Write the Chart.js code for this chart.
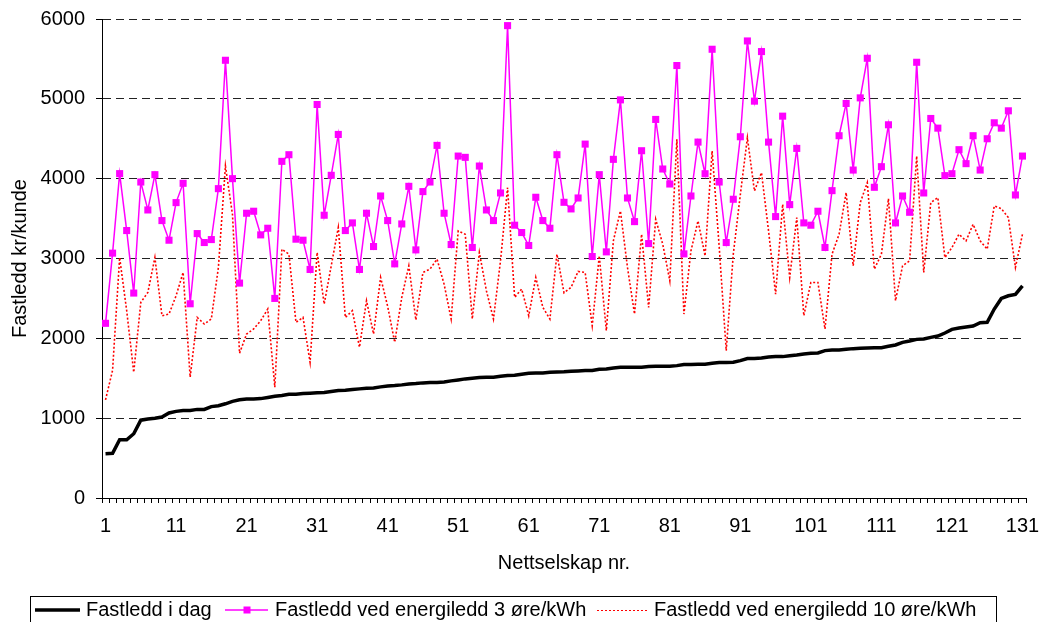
<!DOCTYPE html>
<html>
<head>
<meta charset="utf-8">
<script src="https://cdn.jsdelivr.net/npm/chart.js"></script>
<style>
  body { margin: 0; background: #fff; }
  #wrap { width: 1040px; height: 622px; }
</style>
</head>
<body>
<div id="wrap"><canvas id="chart" width="1040" height="622"></canvas></div>
<script>
// Nettselskap 1..131
const companies = Array.from({ length: 131 }, (_, i) => String(i + 1));
const shownTicks = ['1', '11', '21', '31', '41', '51', '61', '71', '81', '91', '101', '111', '121', '131'];

const seriesNames = [
  'Fastledd i dag',
  'Fastledd ved energiledd 3 øre/kWh',
  'Fastledd ved energiledd 10 øre/kWh'
];

const fastleddIDag = [
  555, 560, 730, 730, 805, 975, 990, 1000, 1015, 1065,
  1085, 1095, 1095, 1110, 1110, 1145, 1155, 1180, 1210, 1230,
  1240, 1240, 1245, 1260, 1275, 1285, 1300, 1300, 1308, 1312,
  1317, 1321, 1333, 1346, 1350, 1358, 1367, 1375, 1379, 1392,
  1404, 1408, 1417, 1429, 1433, 1442, 1446, 1446, 1454, 1467,
  1479, 1492, 1500, 1508, 1512, 1512, 1525, 1533, 1537, 1550,
  1562, 1567, 1567, 1575, 1578, 1580, 1588, 1592, 1596, 1596,
  1612, 1617, 1629, 1637, 1637, 1637, 1637, 1646, 1650, 1650,
  1650, 1658, 1671, 1671, 1675, 1675, 1687, 1696, 1696, 1700,
  1721, 1746, 1746, 1754, 1767, 1771, 1771, 1783, 1792, 1804,
  1812, 1817, 1846, 1854, 1854, 1862, 1871, 1875, 1879, 1883,
  1883, 1900, 1917, 1950, 1967, 1987, 1992, 2012, 2029, 2067,
  2112, 2129, 2142, 2154, 2196, 2200, 2367, 2500, 2533, 2550,
  2658
];

const energi3ore = [
  2188, 3067, 4063, 3350, 2567, 3958, 3608, 4050, 3475, 3229,
  3700, 3942, 2433, 3312, 3200, 3237, 3875, 5483, 4000, 2692,
  3567, 3592, 3296, 3379, 2500, 4217, 4300, 3242, 3229, 2863,
  4929, 3542, 4042, 4554, 3350, 3446, 2863, 3567, 3150, 3783,
  3475, 2933, 3433, 3904, 3108, 3838, 3958, 4417, 3567, 3175,
  4283, 4267, 3138, 4158, 3608, 3475, 3821, 5917, 3417, 3325,
  3163, 3767, 3475, 3379, 4300, 3704, 3621, 3758, 4433, 3025,
  4050, 3083, 4242, 4987, 3758, 3462, 4350, 3187, 4742, 4121,
  3933, 5417, 3058, 3783, 4458, 4062, 5621, 3958, 3200, 3742,
  4525, 5725, 4971, 5592, 4458, 3525, 4783, 3675, 4379, 3446,
  3417, 3592, 3138, 3850, 4538, 4942, 4108, 5012, 5508, 3892,
  4150, 4675, 3446, 3783, 3579, 5458, 3821, 4754, 4633, 4038,
  4062, 4363, 4188, 4538, 4108, 4500, 4700, 4633, 4850, 3796,
  4283
];

const energi10ore = [
  1229, 1600, 3012, 2346, 1575, 2450, 2575, 3012, 2283, 2304,
  2533, 2825, 1513, 2262, 2179, 2242, 2887, 4158, 3550, 1813,
  2054, 2117, 2221, 2367, 1388, 3117, 3054, 2200, 2262, 1700,
  3075, 2429, 2908, 3388, 2262, 2346, 1888, 2471, 2054, 2763,
  2400, 1950, 2513, 2908, 2230, 2825, 2867, 2992, 2679, 2242,
  3346, 3304, 2242, 3075, 2596, 2242, 2971, 3887, 2513, 2617,
  2283, 2763, 2388, 2242, 3054, 2570, 2638, 2838, 2825, 2158,
  3033, 2096, 3221, 3596, 2888, 2304, 3304, 2388, 3492, 3179,
  2721, 4492, 2304, 3096, 3471, 3033, 4346, 3150, 1846, 3054,
  3800, 4513, 3846, 4075, 3346, 2554, 3679, 2763, 3512, 2283,
  2700, 2700, 2117, 3054, 3304, 3825, 2908, 3700, 3950, 2867,
  3054, 3750, 2471, 2908, 2971, 4283, 2825, 3700, 3762, 3012,
  3137, 3304, 3221, 3429, 3221, 3117, 3658, 3625, 3512, 2888,
  3304
];

const FONT = 'Liberation Sans, Arial, sans-serif';

// Legend with a frame, like the Excel original
const boxLegend = {
  id: 'boxLegend',
  afterDraw(chart) {
    const ctx = chart.ctx;
    const y = 610;
    ctx.save();
    ctx.strokeStyle = '#000';
    ctx.lineWidth = 1;
    ctx.strokeRect(30.5, 596.5, 966, 40);

    ctx.font = '20px ' + FONT;
    ctx.fillStyle = '#000';
    ctx.textBaseline = 'middle';

    // black line
    ctx.beginPath();
    ctx.lineWidth = 3.5;
    ctx.strokeStyle = '#000';
    ctx.moveTo(35, y); ctx.lineTo(80, y);
    ctx.stroke();
    ctx.fillText(seriesNames[0], 86, y);

    // magenta line + marker
    ctx.beginPath();
    ctx.lineWidth = 1.5;
    ctx.strokeStyle = '#ff00ff';
    ctx.moveTo(225, y); ctx.lineTo(268, y);
    ctx.stroke();
    ctx.fillStyle = '#ff00ff';
    ctx.fillRect(243.5, y - 3.5, 7, 7);
    ctx.fillStyle = '#000';
    ctx.fillText(seriesNames[1], 275, y);

    // red dotted line
    ctx.beginPath();
    ctx.lineWidth = 1;
    ctx.strokeStyle = '#ff0000';
    ctx.setLineDash([2, 2]);
    ctx.moveTo(597, y + 0.5); ctx.lineTo(647, y + 0.5);
    ctx.stroke();
    ctx.setLineDash([]);
    ctx.fillText(seriesNames[2], 654, y);
    ctx.restore();
  }
};

new Chart(document.getElementById('chart'), {
  type: 'line',
  data: {
    labels: companies,
    datasets: [
      {
        label: seriesNames[0],
        data: fastleddIDag,
        borderColor: '#000',
        borderWidth: 3.5,
        pointRadius: 0,
        tension: 0
      },
      {
        label: seriesNames[1],
        data: energi3ore,
        borderColor: '#ff00ff',
        backgroundColor: '#ff00ff',
        borderWidth: 1.5,
        pointStyle: 'rect',
        pointRadius: 5,
        pointBorderWidth: 0,
        tension: 0
      },
      {
        label: seriesNames[2],
        data: energi10ore,
        borderColor: '#ff0000',
        borderWidth: 1.6,
        borderDash: [2, 2],
        pointRadius: 0,
        tension: 0
      }
    ]
  },
  options: {
    responsive: false,
    animation: false,
    events: [],
    layout: { padding: { top: 19, right: 14, bottom: 0, left: 0 } },
    plugins: {
      legend: { display: false },
      tooltip: { enabled: false }
    },
    scales: {
      x: {
        type: 'category',
        offset: true,
        afterFit: s => { s.height = 124; s.paddingLeft = 0; s.paddingRight = 0; },
        grid: {
          offset: true,
          drawOnChartArea: false,
          drawTicks: true,
          tickLength: 5,
          tickColor: '#000',
          color: '#000'
        },
        border: { display: true, color: '#000', width: 1 },
        ticks: {
          autoSkip: false,
          maxRotation: 0,
          minRotation: 0,
          padding: 11,
          color: '#000',
          font: { family: FONT, size: 20 },
          callback: function (v, i) {
            const lab = companies[i];
            return shownTicks.includes(lab) ? lab : '';
          }
        },
        title: {
          display: true,
          text: 'Nettselskap nr.',
          color: '#000',
          font: { family: FONT, size: 20 },
          padding: { top: 0, bottom: 47 }
        }
      },
      y: {
        min: 0,
        max: 6000,
        afterFit: s => { s.width = 102; s.paddingTop = 0; s.paddingBottom = 0; },
        grid: {
          color: '#222',
          lineWidth: 1,
          drawTicks: true,
          tickLength: 6,
          tickColor: '#000',
          tickBorderDash: []
        },
        border: { display: true, color: '#000', width: 1, dash: [8, 5] },
        ticks: {
          stepSize: 1000,
          padding: 11,
          color: '#000',
          font: { family: FONT, size: 20 },
          callback: v => String(v)
        },
        title: {
          display: true,
          text: 'Fastledd kr/kunde',
          color: '#000',
          font: { family: FONT, size: 20 },
          padding: { top: 8, bottom: 0 }
        }
      }
    }
  },
  plugins: [boxLegend]
});
</script>
</body>
</html>
